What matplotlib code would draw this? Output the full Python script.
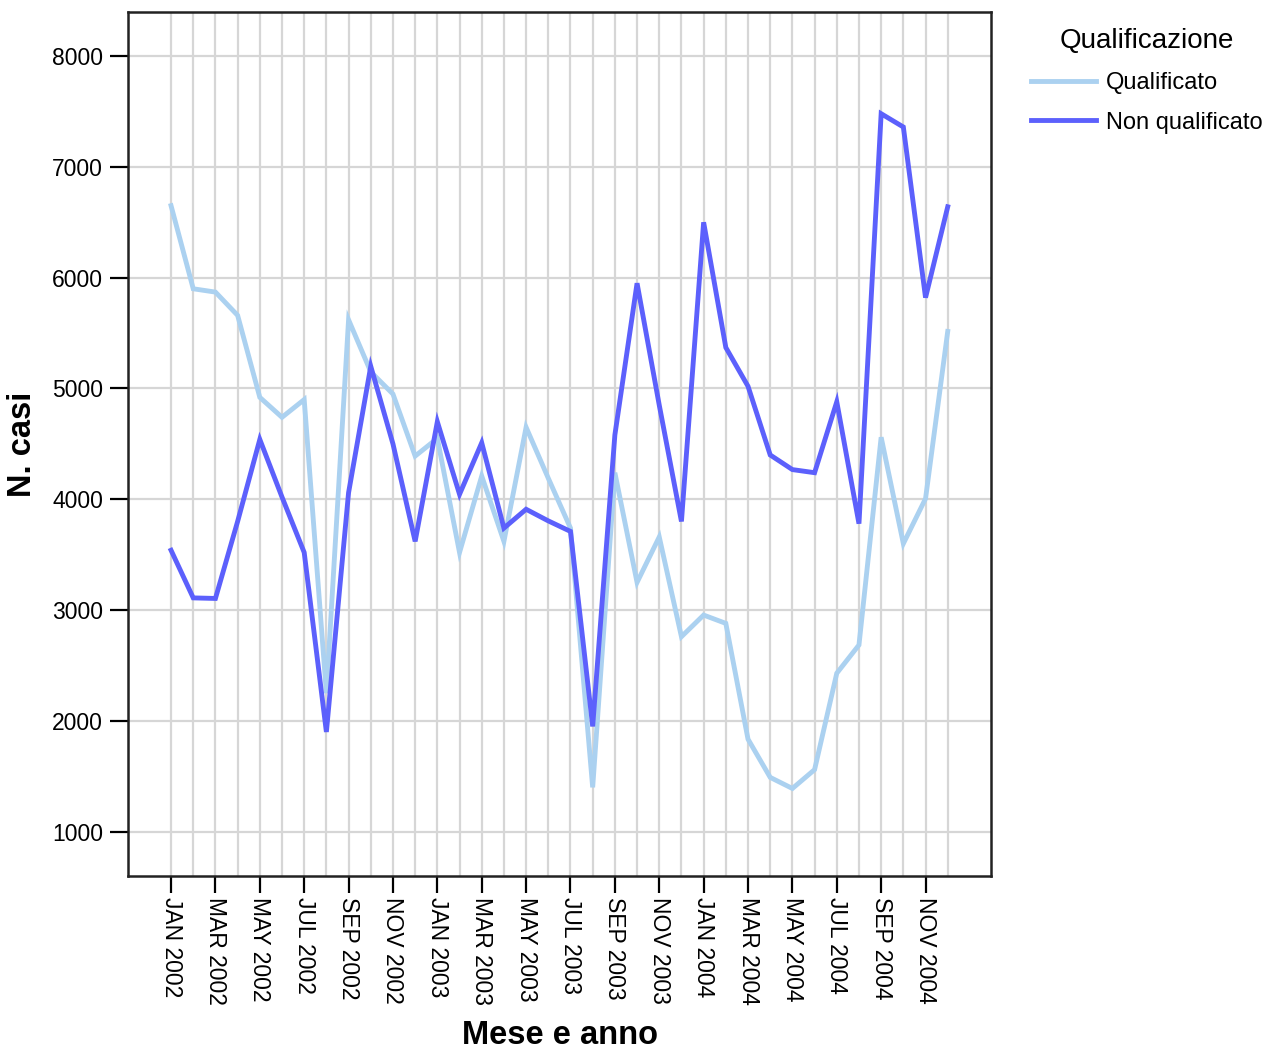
import matplotlib
matplotlib.use("Agg")
import matplotlib.pyplot as plt
from matplotlib.ticker import FixedLocator
from matplotlib.lines import Line2D

plt.rcParams['font.family'] = ['Liberation Sans', 'DejaVu Sans']

months = ["JAN", "FEB", "MAR", "APR", "MAY", "JUN", "JUL", "AUG", "SEP", "OCT", "NOV", "DEC"]
years = [2002, 2003, 2004]
period_labels = [f"{m} {y}" for y in years for m in months]

qualificato = [6650, 5900, 5870, 5660, 4920, 4740, 4900, 2250, 5620, 5150, 4950, 4390,
               4550, 3520, 4210, 3620, 4650, 4190, 3740, 1400, 4240, 3250, 3660, 2760,
               2955, 2880, 1835, 1490, 1390, 1560, 2430, 2685, 4560, 3600, 4006, 5515]
non_qualificato = [3540, 3110, 3105, 3800, 4540, 4020, 3520, 1900, 4060, 5200, 4500, 3620,
                   4700, 4045, 4510, 3740, 3910, 3805, 3710, 1950, 4580, 5950, 4850, 3800,
                   6500, 5370, 5020, 4400, 4268, 4240, 4880, 3780, 7480, 7360, 5820, 6640]
y_ticks = [1000, 2000, 3000, 4000, 5000, 6000, 7000, 8000]
series_names = ["Qualificato", "Non qualificato"]
legend_title = "Qualificazione"

c_light = "#abd1f0"
c_dark = "#5c60fc"
LW = 3.5

W, H = 1267, 1052
fig = plt.figure(figsize=(W / 100, H / 100), dpi=100)
ax = fig.add_axes([128 / W, 1 - 876 / H, (991 - 128) / W, (876 - 12) / H])

x = list(range(len(period_labels)))
ax.plot(x, qualificato, color=c_light, lw=LW, solid_joinstyle='miter', zorder=3)
ax.plot(x, non_qualificato, color=c_dark, lw=LW, solid_joinstyle='miter', zorder=4)

ax.set_xlim(-1.94, 36.95)
ax.set_ylim(600, 8398)

major = x[::2]
minor = x[1::2]
ax.xaxis.set_major_locator(FixedLocator(major))
ax.xaxis.set_minor_locator(FixedLocator(minor))
ax.set_xticklabels([period_labels[i] for i in major], rotation=270, fontsize=16.5)
ax.set_yticks(y_ticks)
ax.set_yticklabels([str(v) for v in y_ticks], fontsize=16.5)

ax.tick_params(axis='x', which='major', direction='out', length=12, width=1.6, pad=3)
ax.tick_params(axis='x', which='minor', length=0)
ax.tick_params(axis='y', direction='out', length=13, width=1.6, pad=5)

ax.grid(True, which='both', axis='x', color='#d6d6d6', lw=1.6, zorder=0)
ax.grid(True, which='major', axis='y', color='#d6d6d6', lw=1.6, zorder=0)
ax.set_axisbelow(True)

for s in ax.spines.values():
    s.set_linewidth(1.8)
    s.set_color('#222222')

ax.set_xlabel("Mese e anno", fontsize=23.5, fontweight='bold', labelpad=11)
ax.set_ylabel("N. casi", fontsize=23.5, fontweight='bold', labelpad=10)

handles = [Line2D([0], [0], color=c_light, lw=LW), Line2D([0], [0], color=c_dark, lw=LW)]
leg = fig.legend(handles, series_names, title=legend_title, loc='upper left',
                 bbox_to_anchor=(1022 / W, 1 - 19 / H), frameon=False,
                 fontsize=17, title_fontsize=20, handlelength=2.75,
                 handletextpad=0.4, labelspacing=0.72, borderaxespad=0)
leg._legend_box.sep = 13

fig.savefig("out.png", dpi=100)
